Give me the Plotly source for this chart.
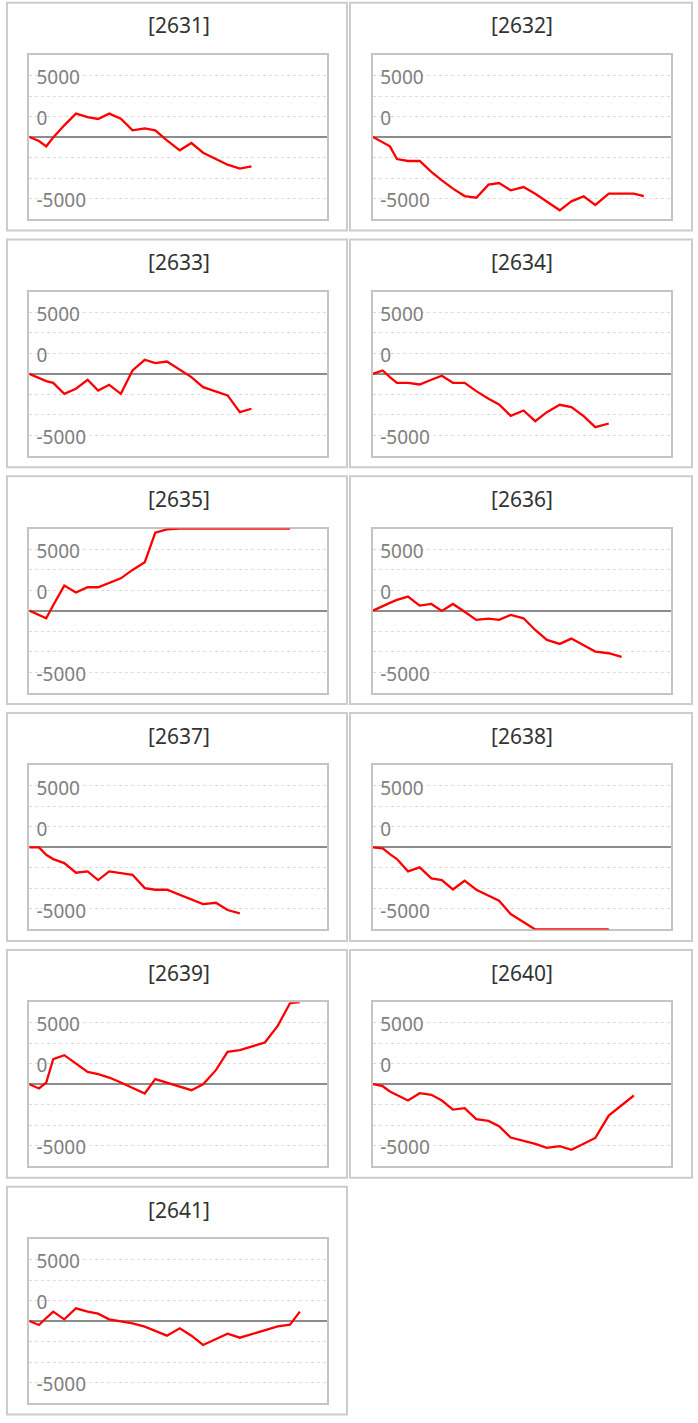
import plotly.graph_objects as go

# ---------------- data ----------------
TITLES = ["[2631]", "[2632]", "[2633]", "[2634]", "[2635]", "[2636]",
          "[2637]", "[2638]", "[2639]", "[2640]", "[2641]"]

# shared (irregular) time positions of the samples
X_GRID = [0, 0.83, 1.45, 2.05, 3, 4, 5, 5.9, 6.85, 7.85, 8.85, 9.9, 10.8,
          11.8, 12.9, 13.9, 14.9, 16, 17, 18.05, 19.05, 20.2, 21.3, 22.35, 23.2]

s2631 = [0, -390, -910, -50, 1140, 2280, 1950, 1760, 2280, 1790, 650, 845, 650,
         -325, -1300, -585, -1530, -2110, -2700, -3090, -2860]
s2632 = [0, -510, -910, -2150, -2340, -2340, -3410, -4230, -5040, -5760, -5920,
         -4650, -4490, -5200, -4880, -5530, -6340, -7150, -6280, -5790, -6630,
         -5530, -5530, -5530, -5760]
s2633 = [0, -420, -715, -880, -1950, -1460, -585, -1630, -1070, -1950, 325, 1370,
         1040, 1200, 390, -325, -1300, -1720, -2110, -3740, -3410]
s2634 = [0, 325, -325, -880, -880, -1040, -585, -195, -880, -880, -1690, -2440,
         -2990, -4100, -3580, -4620, -3740, -3020, -3250, -4130, -5200, -4850]
s2635 = [0, -420, -750, 520, 2440, 1760, 2280, 2280, 2730, 3150, 3970, 4720,
         7610, 7930, 8000, 8000, 8000, 8000, 8000, 8000, 8000, 8000, 8000, 8000]
s2636 = [0, 455, 750, 1040, 1370, 490, 650, -30, 650, -115, -910, -780, -910,
         -420, -750, -1890, -2860, -3250, -2730, -3380, -4000, -4160, -4520]
s2637 = [0, 0, -715, -1140, -1530, -2470, -2340, -3190, -2340, -2470, -2670,
         -3970, -4130, -4130, -4620, -5040, -5530, -5400, -6110, -6440]
s2638 = [0, -100, -650, -1140, -2340, -1950, -3020, -3190, -4100, -3250, -4130,
         -4720, -5200, -6500, -7320, -8000, -8000, -8000, -8000, -8000, -8000, -8000]
s2639 = [0, -420, 160, 2440, 2830, 2020, 1200, 975, 650, 160, -325, -910, 490,
         160, -230, -585, 0, 1370, 3150, 3320, 3670, 4070, 5690, 7900, 8000]
s2640 = [0, -195, -715, -1040, -1590, -880, -1040, -1590, -2470, -2340, -3410,
         -3580, -4100, -5200, -5500, -5820, -6210, -6050, -6400, -5820, -5240,
         -3060, -2020, -1100]
s2641 = [0, -390, 290, 910, 160, 1240, 910, 715, 160, 0, -230, -550, -975,
         -1430, -715, -1430, -2340, -1790, -1240, -1630, -1270, -880, -520, -360, 910]

SERIES = [s2631, s2632, s2633, s2634, s2635, s2636,
          s2637, s2638, s2639, s2640, s2641]

Y_TICKS = [-8000, -6000, -4000, -2000, 0, 2000, 4000, 6000, 8000]
Y_TICK_TEXT = ["", "-5000", "", "", "", "0", "", "5000", ""]
X_RANGE = [0, 25.5]
Y_RANGE = [-8000, 8000]

# ---------------- layout geometry (pixels) ----------------
W, H = 698, 1423
COL_PLOT_X = [(29.3, 326.7), (373.0, 670.6)]
COL_BOX_X = [(7, 347), (350, 692)]
ROW0_TOP, ROW_PITCH, PLOT_H = 55.0, 236.8, 164.0


def px(x):
    return x / W


def py(y):
    return 1 - y / H


fig = go.Figure()
shapes = []
annotations = []

for i, (title, ys) in enumerate(zip(TITLES, SERIES)):
    r, c = divmod(i, 2)
    n = i + 1
    top = ROW0_TOP + ROW_PITCH * r
    bot = top + PLOT_H
    x0, x1 = COL_PLOT_X[c]
    xa = "x" if n == 1 else f"x{n}"
    ya = "y" if n == 1 else f"y{n}"

    fig.add_trace(go.Scatter(
        x=X_GRID[:len(ys)], y=ys, mode="lines",
        line=dict(color="#ff0000", width=2.3),
        xaxis=xa, yaxis=ya, showlegend=False, hoverinfo="skip",
    ))

    fig.layout[f"xaxis{'' if n == 1 else n}"] = dict(
        domain=[px(x0), px(x1)], anchor=ya, range=X_RANGE,
        showticklabels=False, showgrid=False, zeroline=False, ticks="",
        showline=True, mirror=True, linecolor="#c4c4c4", linewidth=2,
        layer="below traces", fixedrange=True,
    )
    fig.layout[f"yaxis{'' if n == 1 else n}"] = dict(
        domain=[py(bot), py(top)], anchor=xa, range=Y_RANGE,
        tickmode="array", tickvals=Y_TICKS, ticktext=Y_TICK_TEXT,
        ticklabelposition="inside", ticks="", ticklabelstandoff=8,
        ticklabelshift=2,
        tickfont=dict(family="Noto Sans", size=19, color="#808080"),
        showgrid=True, gridcolor="#dcdcdc", gridwidth=1, griddash="dot",
        zeroline=True, zerolinecolor="#8c8c8c", zerolinewidth=1.6,
        showline=True, mirror=True, linecolor="#c4c4c4", linewidth=2,
        layer="below traces", fixedrange=True,
    )

    bx0, bx1 = COL_BOX_X[c]
    shapes.append(dict(
        type="rect", xref="paper", yref="paper",
        x0=px(bx0), x1=px(bx1), y0=py(bot + 11.5), y1=py(top - 52.3),
        line=dict(color="#cccccc", width=2), fillcolor="rgba(0,0,0,0)",
        layer="below",
    ))
    annotations.append(dict(
        text=title, xref="paper", yref="paper",
        x=px((x0 + x1) / 2 + 0.5), y=py(top - 29.5), xanchor="center", yanchor="middle",
        showarrow=False, font=dict(family="Noto Sans", size=21, color="#333333"),
    ))

fig.update_layout(
    width=W, height=H, margin=dict(l=0, r=0, t=0, b=0),
    paper_bgcolor="white", plot_bgcolor="white",
    shapes=shapes, annotations=annotations,
)

fig.write_html(
    "out.html",
    config={"displayModeBar": False, "responsive": False},
    post_script="document.body.style.margin='0';document.body.style.overflow='hidden';",
)
